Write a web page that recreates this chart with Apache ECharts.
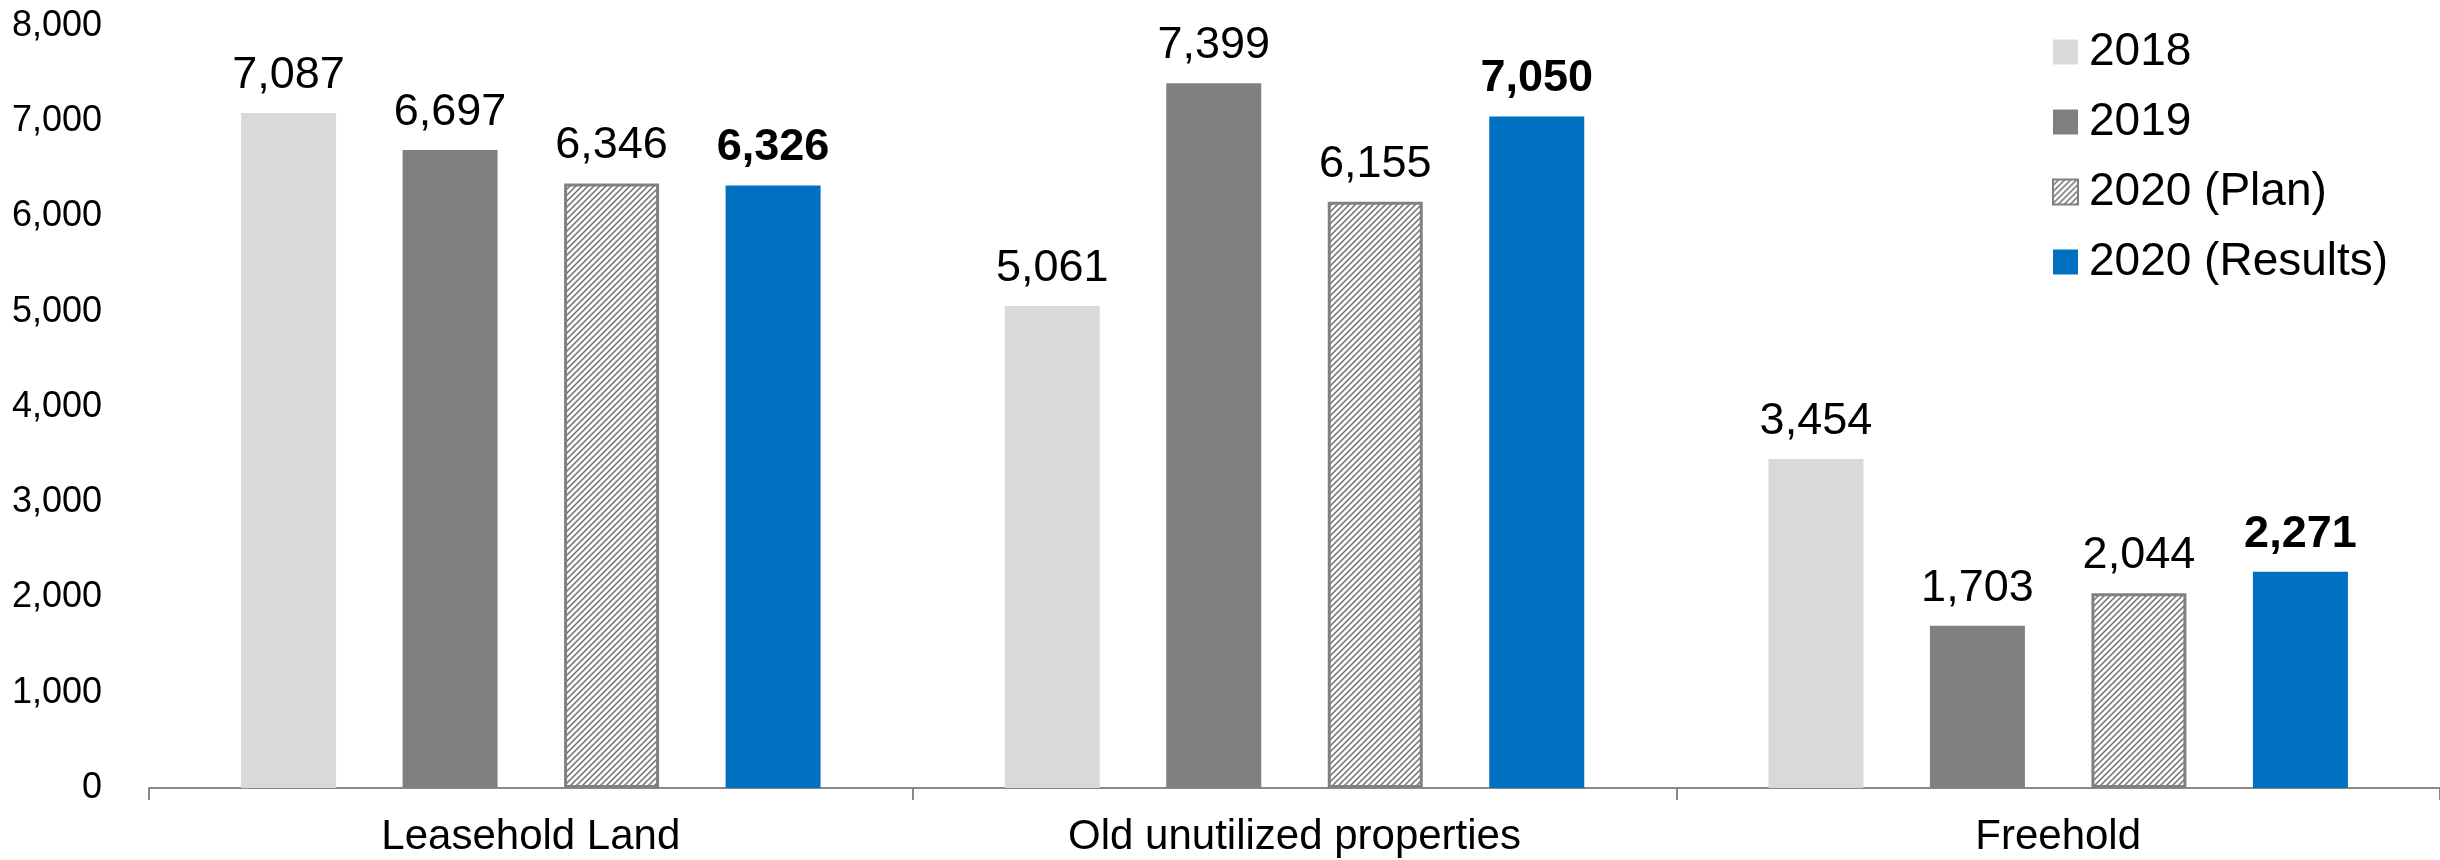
<!DOCTYPE html>
<html>
<head>
<meta charset="utf-8">
<script src="https://cdn.jsdelivr.net/npm/echarts@6/dist/echarts.min.js"></script>
<style>
html,body{margin:0;padding:0;background:#fff;}
#chart{width:2440px;height:860px;}
</style>
</head>
<body>
<div id="chart"></div>
<script>
const categories = ['Leasehold Land', 'Old unutilized properties', 'Freehold'];
const seriesNames = ['2018', '2019', '2020 (Plan)', '2020 (Results)'];
const values2018 = [7087, 5061, 3454];
const values2019 = [6697, 7399, 1703];
const values2020Plan = [6346, 6155, 2044];
const values2020Results = [6326, 7050, 2271];
const yTicks = [0, 1000, 2000, 3000, 4000, 5000, 6000, 7000, 8000];

const FONT = '"Liberation Sans", Arial, Helvetica, sans-serif';

function hatchPattern() {
  const s = 6;
  const c = document.createElement('canvas');
  c.width = s; c.height = s;
  const g = c.getContext('2d');
  g.fillStyle = '#ffffff';
  g.fillRect(0, 0, s, s);
  g.strokeStyle = '#6e6e6e';
  g.lineWidth = 1.5;
  g.beginPath();
  g.moveTo(0, s); g.lineTo(s, 0);
  g.moveTo(-1, 1); g.lineTo(1, -1);
  g.moveTo(s - 1, s + 1); g.lineTo(s + 1, s - 1);
  g.stroke();
  return c;
}

const fmt = v => Number(v).toLocaleString('en-US');

const chart = echarts.init(document.getElementById('chart'), null, {renderer: 'canvas'});

function barSeries(name, data, itemStyle, bold) {
  return {
    name: name,
    type: 'bar',
    data: data,
    barWidth: 95,
    barGap: '70%',
    itemStyle: itemStyle,
    label: {
      show: true,
      position: 'top',
      distance: 15,
      fontSize: 45,
      fontFamily: FONT,
      fontWeight: bold ? 'bold' : 'normal',
      color: '#000',
      formatter: p => fmt(p.value)
    },
    emphasis: {disabled: true}
  };
}

const option = {
  animation: false,
  backgroundColor: '#ffffff',
  grid: {left: 149, right: 0, top: 26, bottom: 72, containLabel: false},
  legend: {
    orient: 'vertical',
    left: 2047,
    top: 24,
    itemWidth: 25,
    itemHeight: 25,
    itemGap: 24,
    icon: 'rect',
    textStyle: {fontSize: 46, fontFamily: FONT, color: '#000', padding: [0, 0, 0, 6]},
    data: seriesNames
  },
  xAxis: {
    type: 'category',
    data: categories,
    axisLine: {show: true, lineStyle: {color: '#898989', width: 2}},
    axisTick: {show: true, length: 12, lineStyle: {color: '#898989', width: 2}},
    axisLabel: {fontSize: 42, fontFamily: FONT, color: '#000', margin: 28}
  },
  yAxis: {
    type: 'value',
    min: yTicks[0],
    max: yTicks[yTicks.length - 1],
    interval: 1000,
    splitLine: {show: false},
    axisLine: {show: false},
    axisTick: {show: false},
    axisLabel: {fontSize: 36, fontFamily: FONT, color: '#000', margin: 47, formatter: v => fmt(v)}
  },
  series: [
    barSeries(seriesNames[0], values2018, {color: '#D9D9D9'}, false),
    barSeries(seriesNames[1], values2019, {color: '#808080'}, false),
    barSeries(seriesNames[2], values2020Plan, {color: {image: hatchPattern(), repeat: 'repeat'}, borderColor: '#808080', borderWidth: 3}, false),
    barSeries(seriesNames[3], values2020Results, {color: '#0070C0'}, true)
  ]
};
chart.setOption(option);
</script>
</body>
</html>
